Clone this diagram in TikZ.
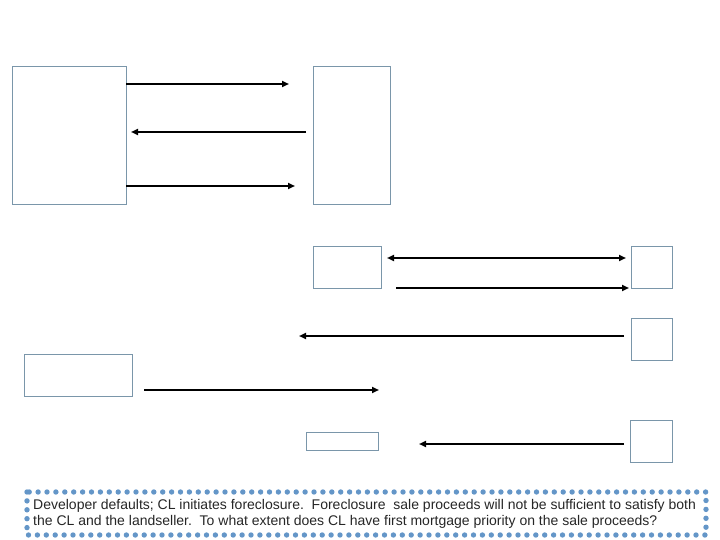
\documentclass[tikz,border=0pt]{standalone}
\usepackage{fontspec}
\setmainfont{Liberation Sans}
\usetikzlibrary{arrows.meta,positioning}
\definecolor{boxgray}{RGB}{122,150,170}
\definecolor{dotblue}{RGB}{100,150,200}

\begin{document}
\begin{tikzpicture}[x=1pt, y=-1pt,
    party/.style={draw=boxgray, line width=0.9pt, fill=white, inner sep=0pt, outer sep=0pt},
    flow/.style={-{Triangle[length=7pt,width=6pt]}, line width=2pt, black},
    bothflow/.style={{Triangle[length=7pt,width=6pt]}-{Triangle[length=7pt,width=6pt]}, line width=2pt, black}]
  \useasboundingbox (0,0) rectangle (720,540);
  % parties
  \node[party, minimum width=114pt, minimum height=138pt] (developer) at (69,135) {};
  \node[party, minimum width=77pt, minimum height=138pt] (lender) at (351.5,135) {};
  \node[party, minimum width=68pt, minimum height=42pt] (cl) at (347,267) {};
  \node[party, minimum width=41pt, minimum height=42pt] (landseller) at (651.5,267) {};
  \node[party, minimum width=41pt, minimum height=42pt] (buyer) at (651.5,339) {};
  \node[party, minimum width=108pt, minimum height=42pt] (court) at (78,375) {};
  \node[party, minimum width=72pt, minimum height=18pt] (proceeds) at (342,441) {};
  \node[party, minimum width=42pt, minimum height=42pt] (sale) at (651,441) {};

  % arrow end points
  \coordinate (a1s) at (126,84);  \coordinate (a1e) at (289,84);
  \coordinate (a2s) at (306,132); \coordinate (a2e) at (131,132);
  \coordinate (a3s) at (126,186); \coordinate (a3e) at (295,186);
  \coordinate (a4s) at (387,258); \coordinate (a4e) at (626,258);
  \coordinate (a5s) at (396,288); \coordinate (a5e) at (629,288);
  \coordinate (a6s) at (624,336); \coordinate (a6e) at (299,336);
  \coordinate (a7s) at (144,390); \coordinate (a7e) at (379,390);
  \coordinate (a8s) at (624,444); \coordinate (a8e) at (419,444);

  % flows
  \draw[flow] (a1s) -- (a1e);
  \draw[flow] (a2s) -- (a2e);
  \draw[flow] (a3s) -- (a3e);
  \draw[bothflow] (a4s) -- (a4e);
  \draw[flow] (a5s) -- (a5e);
  \draw[flow] (a6s) -- (a6e);
  \draw[flow] (a7s) -- (a7e);
  \draw[flow] (a8s) -- (a8e);

  % question box
  \draw[dotblue, line width=5.4pt, line cap=round, dash pattern=on 0pt off 8.9pt]
    (27,492) rectangle (706,535);
  \node[anchor=north west, align=left, inner sep=0pt, font=\fontsize{14}{16.5}\selectfont,
        text=black!85] (question) at (33,499)
    {Developer defaults; CL initiates foreclosure.\ \ Foreclosure\ \ sale proceeds will not be sufficient to satisfy both\\
     the CL and the landseller.\ \ To what extent does CL have first mortgage priority on the sale proceeds?};
\end{tikzpicture}
\end{document}
